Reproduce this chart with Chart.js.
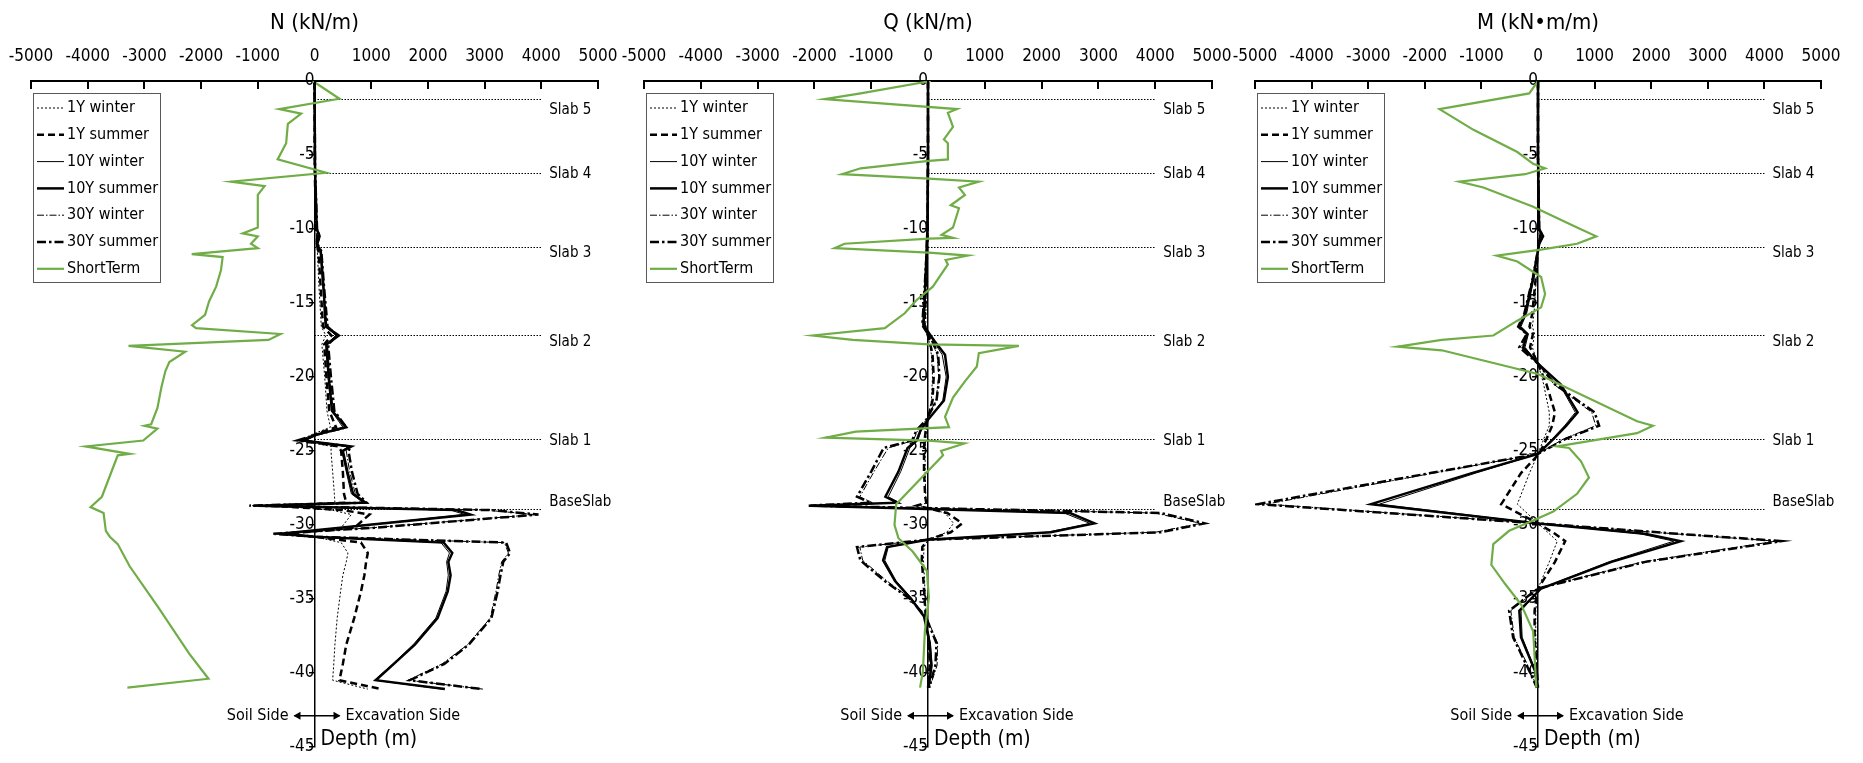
<!DOCTYPE html>
<html>
<head>
<meta charset="utf-8">
<script src="https://cdn.jsdelivr.net/npm/chart.js@4.4.1/dist/chart.umd.min.js"></script>
<style>
  html, body { margin: 0; padding: 0; background: #fff; }
  #wrap { position: relative; width: 1863px; height: 763px; }
  #wrap canvas { position: absolute; left: 0; top: 0; }
</style>
</head>
<body>
<div id="wrap">
  <canvas id="chartN" width="1863" height="763"></canvas>
  <canvas id="chartQ" width="1863" height="763"></canvas>
  <canvas id="chartM" width="1863" height="763"></canvas>
</div>
<script>
// ---- data ----
const seriesNames = ['1Y winter', '1Y summer', '10Y winter', '10Y summer', '30Y winter', '30Y summer', 'ShortTerm'];
const xTicks = [-5000, -4000, -3000, -2000, -1000, 0, 1000, 2000, 3000, 4000, 5000];
const yTicks = [0, -5, -10, -15, -20, -25, -30, -35, -40, -45];
const slabNames = ['Slab 5', 'Slab 4', 'Slab 3', 'Slab 2', 'Slab 1', 'BaseSlab'];
const slabDepth = [-1.2, -6.2, -11.2, -17.2, -24.2, -28.9];
const slabEnd = 4000;

// N (kN/m)
const N_depth = [0, -6, -10, -10.5, -11, -11.5, -14, -16.6, -17.2, -17.8, -20, -22.3, -23.4, -23.9, -24.3, -24.7, -25, -26.4, -27.9, -28.5, -28.7, -29.0, -29.3, -30.2, -30.6, -30.8, -31.2, -31.9, -32.5, -33.4, -34.5, -36.3, -38.1, -39.4, -40.5, -41.1];
const N_1W  = [0, 5, 20, 40, 30, 50, 80, 120, 200, 130, 180, 220, 280, -50, -250, 300, 290, 320, 350, 360, -700, 300, 650, 470, -400, 0, 470, 590, 560, 500, 460, 400, 360, 340, 320, 940];
const N_1S  = [0, 5, 25, 50, 35, 70, 110, 150, 300, 170, 210, 260, 380, 0, -200, 420, 470, 500, 520, 560, -800, 500, 970, 700, -500, 0, 820, 940, 910, 880, 820, 700, 560, 500, 440, 1180];
const N_10W = [0, 10, 35, 70, 35, 100, 150, 190, 380, 200, 240, 300, 500, 30, -150, 600, 480, 560, 650, 860, -900, 2400, 2650, 420, -550, 0, 2230, 2380, 2330, 2360, 2320, 2140, 1740, 1380, 1060, 2250];
const N_10S = [0, 10, 40, 90, 40, 110, 160, 200, 430, 210, 250, 310, 560, 40, -200, 650, 500, 580, 680, 900, -1000, 2500, 2750, 450, -600, 0, 2280, 2430, 2360, 2400, 2350, 2170, 1770, 1400, 1080, 2300];
const N_30W = [0, 10, 40, 80, 50, 110, 160, 220, 380, 230, 270, 330, 520, 30, -300, 600, 560, 620, 720, 880, -1100, 3000, 3900, 1000, -700, 0, 3350, 3420, 3300, 3250, 3200, 3100, 2700, 2250, 1650, 2970];
const N_30S = [0, 10, 45, 90, 50, 120, 170, 230, 400, 240, 290, 350, 560, 40, -300, 640, 600, 660, 760, 920, -1150, 3100, 3950, 1050, -750, 0, 3380, 3450, 3330, 3280, 3230, 3120, 2720, 2290, 1680, 2950];
const N_stDepth = [0, -1.2, -1.9, -2.2, -2.9, -4.2, -5.3, -6.2, -6.8, -7.1, -7.7, -9.9, -10.3, -10.5, -11.0, -11.3, -11.7, -11.9, -12.8, -13.9, -14.9, -15.8, -16.5, -16.7, -17.1, -17.5, -17.9, -18.3, -19.0, -19.6, -20.7, -22.1, -23.2, -23.3, -23.5, -24.3, -24.7, -25.2, -25.3, -28.1, -28.8, -29.2, -30.4, -30.8, -31.3, -32.8, -35.5, -38.7, -40.4, -41.0];
const N_st = [-30, 440, -620, -235, -470, -500, -650, 205, -1470, -880, -1000, -1000, -1265, -1000, -1120, -1000, -2165, -1620, -1650, -1735, -1860, -1930, -2160, -2090, -600, -810, -3280, -2280, -2560, -2630, -2700, -2770, -2880, -3000, -2770, -3020, -4035, -3260, -3470, -3750, -3950, -3720, -3680, -3610, -3470, -3260, -2770, -2210, -1870, -3300];

// Q (kN/m)
const Q_depth = [0, -5, -10, -12, -14, -16.5, -17.6, -18.5, -20, -21.6, -22.9, -23.6, -24.3, -24.8, -26.4, -28.1, -28.5, -28.7, -29.2, -29.9, -30.5, -31.0, -31.5, -32.4, -33.8, -35.0, -36.2, -38.0, -39.5, -41.0];
const Q_1W  = [0, 0, -5, -15, -30, -40, 20, 60, 80, 60, -10, -30, -40, -50, -50, -40, -20, -150, 300, 450, 330, 0, -70, -80, -60, -50, -30, 10, 20, 0];
const Q_1S  = [0, 0, -5, -20, -40, -60, 30, 80, 100, 80, -10, -40, -60, -70, -70, -50, -30, -200, 340, 600, 400, 0, -100, -110, -80, -60, -40, 20, 30, 0];
const Q_10W = [0, 0, -10, -30, -50, -70, 100, 250, 320, 260, 0, -120, -180, -320, -480, -700, -500, -1900, 2400, 2850, 2100, -10, -700, -760, -560, -280, -60, 40, 70, 20];
const Q_10S = [0, 0, -10, -30, -50, -80, 120, 300, 350, 280, 0, -130, -200, -360, -520, -750, -540, -2070, 2500, 2930, 2160, -10, -720, -790, -580, -300, -70, 30, 60, 10];
const Q_30W = [0, 0, -10, -25, -50, -90, 70, 160, 190, 140, -30, -180, -260, -700, -950, -1200, -980, -2000, 4000, 4800, 4000, 0, -1200, -1150, -720, -300, -30, 170, 160, 30];
const Q_30S = [0, 0, -10, -30, -60, -100, 80, 180, 200, 150, -30, -200, -280, -780, -1000, -1250, -1010, -2100, 4100, 4870, 4100, 0, -1250, -1190, -760, -320, -40, 150, 130, 20];
const Q_stDepth = [0, -0.84, -1.22, -1.9, -2.15, -3.1, -3.95, -4.2, -5.3, -5.4, -5.9, -6.3, -6.6, -6.8, -7.2, -7.7, -8.4, -8.6, -9.9, -10.4, -10.6, -10.65, -11.0, -11.3, -11.6, -11.8, -12.1, -12.4, -13.9, -14.8, -15.7, -16.7, -17.2, -17.5, -17.8, -17.9, -18.4, -19.3, -20.3, -21.4, -22.7, -23.4, -23.7, -24.1, -24.3, -24.5, -25.0, -25.3, -28.6, -30.0, -30.9, -31.8, -33.1, -34.9, -37.2, -39.9, -41.0];
const Q_st = [50, -1185, -1820, 510, 350, 440, 280, 350, 350, 15, -1185, -1515, 15, 895, 545, 650, 400, 545, 440, 240, 440, 15, -1470, -1645, 15, 705, 310, 350, 85, -200, -410, -760, -2030, -1325, 15, 1600, 895, 860, 650, 440, 300, 370, -1270, -1800, 15, 640, 230, 265, -560, -590, -520, -270, -20, 15, -55, -90, -140];

// M (kN·m/m)
const M_depth = [0, -5, -10, -10.5, -11, -13.3, -15.7, -16.6, -17.1, -18.0, -19.1, -20.5, -22.4, -23.3, -24.2, -25.2, -26.5, -28.6, -29.9, -30.6, -31.1, -32.5, -34.3, -35.8, -37.6, -39.9, -41.0];
const M_1W  = [0, 0, 5, 30, 5, -30, -70, -100, -60, -100, 0, 100, 200, 200, 100, 0, -150, -365, 0, 200, 340, 200, 0, -40, -40, -10, 0];
const M_1S  = [0, 0, 10, 40, 10, -40, -100, -150, -90, -140, 0, 150, 300, 250, 150, 20, -300, -650, 0, 300, 480, 300, 0, -60, -60, -20, 0];
const M_10W = [0, 0, 15, 70, 15, -70, -200, -300, -170, -230, 0, 380, 660, 470, 250, 0, -1100, -2800, 0, 1800, 2400, 1250, 50, -300, -280, -40, -10];
const M_10S = [0, 0, 20, 90, 20, -85, -225, -330, -190, -260, 0, 400, 700, 500, 270, 0, -1170, -2950, 0, 1890, 2520, 1300, 55, -330, -300, -50, -10];
const M_30W = [0, 0, 15, 60, 15, -80, -220, -320, -180, -300, 0, 280, 950, 1020, 450, 0, -1850, -4800, 0, 2400, 4200, 1850, 0, -480, -420, -130, -20];
const M_30S = [0, 0, 20, 80, 20, -90, -240, -350, -200, -330, 0, 300, 1000, 1080, 480, 0, -1900, -4950, 0, 2460, 4300, 1900, 0, -510, -440, -150, -20];
const M_stDepth = [0, -0.84, -1.9, -3.3, -4.8, -5.6, -5.9, -6.1, -6.3, -6.8, -7.2, -8.5, -9.9, -10.5, -11.0, -11.4, -11.8, -12.2, -13.25, -14.4, -15.3, -16.2, -17.2, -17.5, -17.95, -18.2, -19.8, -23.0, -23.3, -23.8, -24.7, -24.8, -25.7, -26.8, -27.9, -29.1, -29.7, -30.4, -31.3, -32.7, -34.0, -35.4, -37.2, -41.0];
const M_st = [0, -155, -1740, -1140, -365, -85, 125, -50, -225, -1390, -965, -85, 690, 1030, 690, 55, -730, -365, 55, 125, 55, -365, -790, -1700, -2480, -1700, 0, 1750, 2030, 1750, 340, 550, 760, 900, 690, 270, -85, -510, -790, -825, -580, -295, -85, -30];

// ---- styles ----
const FONT = "'Liberation Sans Narrow', 'Arial Narrow', 'DejaVu Sans Condensed', sans-serif";
const GREEN = '#70ad47';
const lineStyles = [
  { w: 1, dash: [2, 2] },
  { w: 2.5, dash: [7, 4] },
  { w: 1, dash: [] },
  { w: 2.5, dash: [] },
  { w: 1, dash: [7, 2, 1.5, 2] },
  { w: 2.5, dash: [9, 3, 2.5, 3] },
  { w: 2.2, dash: [], color: GREEN }
];
const slabLabelDy = [11, 1, 6, 7, 2, -6];

Chart.defaults.font.family = FONT;
Chart.defaults.color = '#000';

function toPoints(vals, depth) {
  return vals.map((v, i) => ({ x: v, y: depth[i] }));
}

// slab lines, legend, side arrow and depth label
const decor = {
  id: 'decor',
  beforeDatasetsDraw(chart) {
    const { ctx, scales: { x, y } } = chart;
    const x0 = x.getPixelForValue(0);
    const x1 = x.getPixelForValue(slabEnd);
    ctx.save();
    ctx.strokeStyle = '#000';
    ctx.lineWidth = 1;
    ctx.setLineDash([1.5, 1.5]);
    slabDepth.forEach(d => {
      const py = Math.round(y.getPixelForValue(d)) + 0.5;
      ctx.beginPath();
      ctx.moveTo(x0, py);
      ctx.lineTo(x1, py);
      ctx.stroke();
    });
    ctx.restore();
  },
  afterDraw(chart) {
    const { ctx, chartArea, scales: { x, y } } = chart;
    ctx.save();

    // x tick marks (pointing down into the plot)
    ctx.strokeStyle = '#000';
    ctx.lineWidth = 2;
    x.ticks.forEach(t => {
      const px = Math.round(x.getPixelForValue(t.value));
      ctx.beginPath();
      ctx.moveTo(px, chartArea.top);
      ctx.lineTo(px, chartArea.top + 8);
      ctx.stroke();
    });

    // slab labels
    ctx.fillStyle = '#000';
    ctx.font = '15px ' + FONT;
    ctx.textAlign = 'left';
    ctx.textBaseline = 'middle';
    const lx0 = x.getPixelForValue(slabEnd) + 8;
    slabNames.forEach((s, i) => {
      ctx.fillText(s, lx0, y.getPixelForValue(slabDepth[i]) + slabLabelDy[i]);
    });

    // legend
    ctx.font = '16px ' + FONT;
    const lx = chartArea.left + 2, ly = chartArea.top + 12, lw = 127, lh = 189;
    ctx.fillStyle = '#fff';
    ctx.fillRect(lx, ly, lw, lh);
    ctx.strokeStyle = '#595959';
    ctx.lineWidth = 1;
    ctx.strokeRect(lx + 0.5, ly + 0.5, lw, lh);
    seriesNames.forEach((name, i) => {
      const st = lineStyles[i];
      const ry = ly + 15 + i * 26.8;
      ctx.strokeStyle = st.color || '#000';
      ctx.lineWidth = st.w;
      ctx.setLineDash(st.dash);
      ctx.beginPath();
      ctx.moveTo(lx + 4, ry);
      ctx.lineTo(lx + 31, ry);
      ctx.stroke();
      ctx.setLineDash([]);
      ctx.fillStyle = '#000';
      ctx.fillText(name, lx + 34, ry);
    });

    // soil side / excavation side
    const ax = x.getPixelForValue(0);
    const ay = y.getPixelForValue(-42.9);
    ctx.textAlign = 'right';
    ctx.fillText('Soil Side', ax - 26, ay);
    ctx.textAlign = 'left';
    ctx.fillText('Excavation Side', ax + 31, ay);
    ctx.strokeStyle = '#000';
    ctx.lineWidth = 1.5;
    ctx.beginPath();
    ctx.moveTo(ax - 20, ay);
    ctx.lineTo(ax + 25, ay);
    ctx.stroke();
    ctx.fillStyle = '#000';
    [[ax - 21, -1], [ax + 26, 1]].forEach(([tx, dir]) => {
      ctx.beginPath();
      ctx.moveTo(tx, ay);
      ctx.lineTo(tx - dir * 7, ay - 4);
      ctx.lineTo(tx - dir * 7, ay + 4);
      ctx.closePath();
      ctx.fill();
    });

    ctx.font = '21px ' + FONT;
    ctx.fillText('Depth (m)', ax + 6, y.getPixelForValue(-44.5));
    ctx.restore();
  }
};

function makePanel(id, title, left, right, depth, blacks, stDepth, st) {
  const datasets = blacks.map((vals, i) => ({
    label: seriesNames[i],
    data: toPoints(vals, depth),
    borderColor: '#000',
    borderWidth: lineStyles[i].w,
    borderDash: lineStyles[i].dash
  }));
  datasets.push({
    label: seriesNames[6],
    data: toPoints(st, stDepth),
    borderColor: GREEN,
    borderWidth: lineStyles[6].w,
    order: -1
  });
  datasets.forEach(d => {
    d.showLine = true;
    d.pointRadius = 0;
    d.fill = false;
    d.tension = 0;
  });

  return new Chart(document.getElementById(id), {
    type: 'scatter',
    data: { datasets },
    options: {
      responsive: false,
      animation: false,
      events: [],
      layout: { padding: { top: 0, left: left, right: 1863 - right, bottom: 16 } },
      plugins: { legend: { display: false }, tooltip: { enabled: false } },
      scales: {
        x: {
          type: 'linear',
          position: 'top',
          min: -5000,
          max: 5000,
          afterBuildTicks: s => { s.ticks = xTicks.map(v => ({ value: v })); },
          ticks: { font: { size: 17 }, color: '#000', padding: 2, callback: v => String(v) },
          grid: { drawOnChartArea: false, drawTicks: true, tickLength: 11.8, tickColor: 'rgba(0,0,0,0)' },
          border: { color: '#000', width: 2 },
          title: { display: true, text: title, color: '#000', font: { size: 22 }, padding: { top: 9.8, bottom: 8.6 } }
        },
        y: {
          type: 'linear',
          position: { x: 0 },
          min: -45,
          max: 0,
          afterBuildTicks: s => { s.ticks = yTicks.map(v => ({ value: v })); },
          ticks: { font: { size: 17 }, color: '#000', padding: 6, callback: v => String(v) },
          grid: { drawOnChartArea: false, drawTicks: true, tickLength: 5, color: '#000', lineWidth: 1.5 },
          border: { color: '#000', width: 1.5 }
        }
      }
    },
    plugins: [decor]
  });
}

makePanel('chartN', 'N (kN/m)', 31, 598, N_depth, [N_1W, N_1S, N_10W, N_10S, N_30W, N_30S], N_stDepth, N_st);
makePanel('chartQ', 'Q (kN/m)', 644, 1212, Q_depth, [Q_1W, Q_1S, Q_10W, Q_10S, Q_30W, Q_30S], Q_stDepth, Q_st);
makePanel('chartM', 'M (kN\u2022m/m)', 1255, 1821, M_depth, [M_1W, M_1S, M_10W, M_10S, M_30W, M_30S], M_stDepth, M_st);
</script>
</body>
</html>
